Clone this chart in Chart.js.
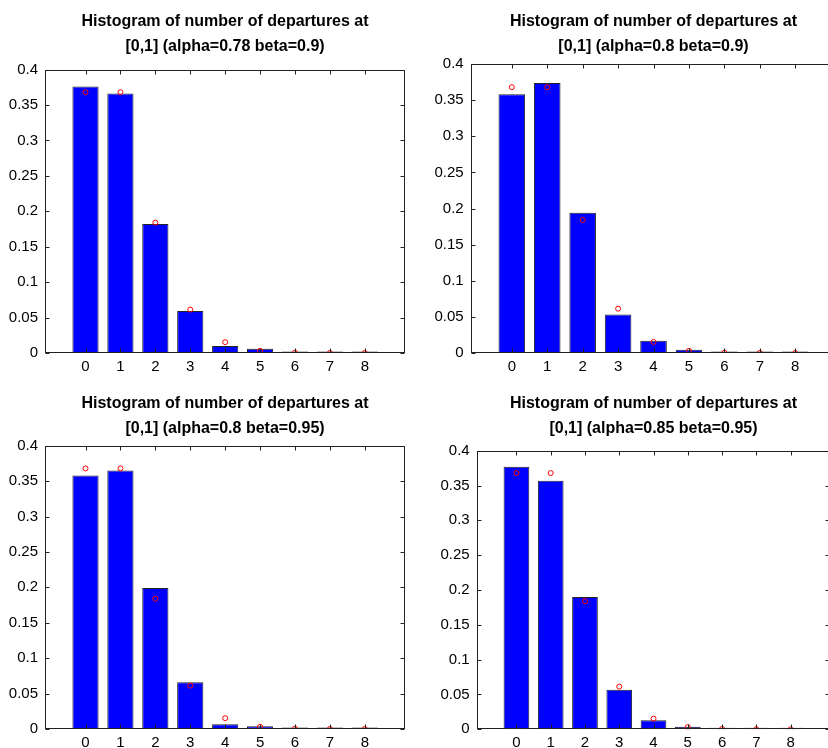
<!DOCTYPE html>
<html>
<head>
<meta charset="utf-8">
<script src="https://cdn.jsdelivr.net/npm/chart.js@4.4.1/dist/chart.umd.min.js"></script>
<style>
  body { margin: 0; background: #fff; width: 828px; height: 748px; overflow: hidden; position: relative; }
  canvas { position: absolute; }
</style>
</head>
<body>
<canvas id="c1"></canvas>
<canvas id="c2"></canvas>
<canvas id="c3"></canvas>
<canvas id="c4"></canvas>
<script>
// number of departures (x categories)
const departures = [0, 1, 2, 3, 4, 5, 6, 7, 8];
// red circles: theoretical probabilities
const expected = [0.3679, 0.3679, 0.1839, 0.0613, 0.0153, 0.0031, 0.0005, 0.0001, 0.00001];
// histogram heights
const histA = [0.376, 0.366, 0.182, 0.0593, 0.0099, 0.0061, 0.0010, 0.0003, 0.0001];
const histB = [0.358, 0.3736, 0.194, 0.0532, 0.0171, 0.0046, 0.0008, 0.0002, 0.0001];
const histC = [0.358, 0.365, 0.199, 0.0659, 0.0066, 0.0038, 0.0010, 0.0003, 0.0001];
const histD = [0.377, 0.357, 0.190, 0.0569, 0.0129, 0.0038, 0.0024, 0.0005, 0.0001];
const yTicks = [0, 0.05, 0.1, 0.15, 0.2, 0.25, 0.3, 0.35, 0.4];
const xTicks = [0, 1, 2, 3, 4, 5, 6, 7, 8];
const titleA = ['Histogram of number of departures at', '[0,1] (alpha=0.78 beta=0.9)'];
const titleB = ['Histogram of number of departures at', '[0,1] (alpha=0.8 beta=0.9)'];
const titleC = ['Histogram of number of departures at', '[0,1] (alpha=0.8 beta=0.95)'];
const titleD = ['Histogram of number of departures at', '[0,1] (alpha=0.85 beta=0.95)'];

Chart.defaults.font.family = '"Liberation Sans", Arial, sans-serif';
Chart.defaults.color = '#000';

// box around the plot with inward tick marks on all four sides
const framePlugin = {
  id: 'frame',
  afterDraw(chart) {
    const { ctx, chartArea: a } = chart;
    const x = chart.scales.x, y = chart.scales.y;
    const L = Math.round(a.left) + 0.5, R = Math.round(a.right) - 0.5;
    const T = Math.round(a.top) + 0.5, B = Math.round(a.bottom) - 0.5;
    ctx.save();
    ctx.strokeStyle = '#222';
    ctx.lineWidth = 1;
    ctx.strokeRect(L, T, R - L, B - T);
    ctx.beginPath();
    x.ticks.forEach(t => {
      const px = Math.round(x.getPixelForValue(t.value)) + 0.5;
      ctx.moveTo(px, B); ctx.lineTo(px, B - 4);
      ctx.moveTo(px, T); ctx.lineTo(px, T + 4);
    });
    y.ticks.forEach(t => {
      const py = Math.round(y.getPixelForValue(t.value)) + 0.5;
      ctx.moveTo(L, py); ctx.lineTo(L + 4, py);
      ctx.moveTo(R, py); ctx.lineTo(R - 4, py);
    });
    ctx.stroke();
    ctx.restore();
  }
};

function makePanel(id, box, hist, title) {
  const cv = document.getElementById(id);
  cv.width = box.w; cv.height = box.h;
  cv.style.left = box.left + 'px';
  cv.style.top = box.top + 'px';
  new Chart(cv, {
    type: 'bar',
    data: {
      datasets: [
        {
          type: 'line',
          data: departures.map((d, i) => ({ x: d, y: expected[i] })),
          showLine: false,
          pointRadius: 2.5,
          pointBorderWidth: 1,
          pointBorderColor: '#ff0000',
          pointBackgroundColor: 'rgba(0,0,0,0)',
          order: 0
        },
        {
          data: departures.map((d, i) => ({ x: d, y: hist[i] })),
          backgroundColor: '#0000ff',
          borderColor: '#222',
          borderWidth: 1,
          minBarLength: 1.5,
          barPercentage: 0.75,
          categoryPercentage: 1,
          order: 1
        }
      ]
    },
    options: {
      responsive: false,
      animation: false,
      layout: { padding: 0 },
      plugins: {
        legend: { display: false },
        tooltip: { enabled: false },
        title: {
          display: true,
          text: title,
          color: '#000',
          font: { size: 16, weight: 'bold', lineHeight: 1.5625 },
          padding: { top: 9.5, bottom: box.tb }
        }
      },
      scales: {
        x: {
          type: 'linear',
          offset: false,
          min: -1.16,
          max: 9.15,
          grid: { display: false, drawTicks: false },
          border: { display: false },
          afterBuildTicks: s => { s.ticks = xTicks.map(v => ({ value: v })); },
          afterFit: s => { s.height = box.xh; },
          ticks: { font: { size: 15 }, padding: 5, maxRotation: 0, autoSkip: false, callback: v => String(v) }
        },
        y: {
          type: 'linear',
          position: 'left',
          min: 0,
          max: 0.4,
          grid: { display: false, drawTicks: false },
          border: { display: false },
          afterBuildTicks: s => { s.ticks = yTicks.map(v => ({ value: v })); },
          afterFit: s => { s.width = box.yw; },
          ticks: { font: { size: 15 }, padding: 7, callback: v => String(v) }
        },
        yr: {
          type: 'linear',
          position: 'right',
          grid: { display: false, drawTicks: false },
          border: { display: false },
          ticks: { display: false },
          afterFit: s => { s.width = box.rw; }
        }
      }
    },
    plugins: [framePlugin]
  });
}

makePanel('c1', { left: 0, top: 0, w: 450, h: 374, yw: 45, rw: 45, xh: 21, tb: 10 }, histA, titleA);
makePanel('c2', { left: 414, top: 0, w: 479, h: 374, yw: 56.7, rw: 57, xh: 21, tb: 4.5 }, histB, titleB);
makePanel('c3', { left: 0, top: 382, w: 450, h: 374, yw: 45, rw: 45, xh: 27, tb: 4.2 }, histC, titleC);
makePanel('c4', { left: 414, top: 382, w: 479, h: 374, yw: 62.7, rw: 63, xh: 26.7, tb: 9.2 }, histD, titleD);
</script>
</body>
</html>
